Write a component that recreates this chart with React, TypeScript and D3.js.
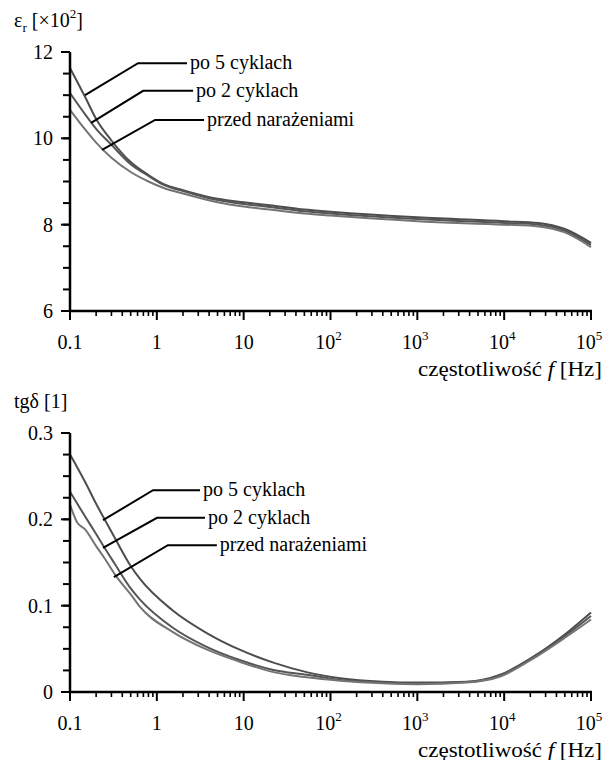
import * as d3 from "d3";

// legend names (shared by both panels)
const seriesNames = ["po 5 cyklach", "po 2 cyklach", "przed narażeniami"];
const seriesColors = ["#4d4d4d", "#555555", "#747474"];

// upper panel: relative permittivity [x10^2]
const epsFreq = [0.1, 0.15, 0.2, 0.3, 0.5, 0.8, 1.2, 2, 5, 10, 20, 50, 100, 1000, 1e4, 2.5e4, 5e4, 1e5];
const epsPo5 = [11.63, 10.95, 10.45, 9.95, 9.45, 9.15, 8.94, 8.8, 8.6, 8.52, 8.45, 8.35, 8.3, 8.17, 8.08, 8.04, 7.9, 7.58];
const epsPo2 = [11.05, 10.55, 10.22, 9.85, 9.4, 9.13, 8.92, 8.78, 8.57, 8.48, 8.41, 8.31, 8.26, 8.13, 8.04, 8.0, 7.86, 7.53];
const epsPrzed = [10.66, 10.2, 9.9, 9.55, 9.22, 9.0, 8.85, 8.72, 8.52, 8.42, 8.35, 8.26, 8.21, 8.08, 8.0, 7.96, 7.82, 7.48];

// lower panel: loss tangent
const tgFreq = [0.1, 0.12, 0.15, 0.2, 0.25, 0.33, 0.5, 0.64, 1.5, 3.8, 9, 22, 53, 130, 400, 1000, 3700, 9000, 2.1e4, 5.2e4, 1e5];
const tgPo5 = [0.275, 0.261, 0.243, 0.218, 0.2, 0.178, 0.146, 0.131, 0.095, 0.068, 0.049, 0.034, 0.023, 0.016, 0.012, 0.011, 0.012, 0.02, 0.04, 0.068, 0.092];
const tgPo2 = [0.232, 0.219, 0.203, 0.183, 0.167, 0.148, 0.12, 0.107, 0.075, 0.052, 0.037, 0.0255, 0.02, 0.014, 0.011, 0.01, 0.0115, 0.019, 0.039, 0.066, 0.088];
const tgPrzed = [0.217, 0.197, 0.188, 0.169, 0.155, 0.136, 0.113, 0.0985, 0.07, 0.049, 0.035, 0.023, 0.017, 0.013, 0.01, 0.009, 0.011, 0.018, 0.038, 0.064, 0.084];

// where the leader lines touch the curves (frequency, value)
const epsAnchorF = [0.149, 0.175, 0.234];
const epsAnchorV = [11.0, 10.36, 9.73];
const tgAnchorF = [0.24, 0.24, 0.32];
const tgAnchorV = [0.199, 0.167, 0.133];

const xTickLabels = ["0.1", "1", "10", "10^2", "10^3", "10^4", "10^5"];
const xMajor = [0.1, 1, 10, 100, 1000, 1e4, 1e5];

const FONT = "'Liberation Serif', 'DejaVu Serif', 'Noto Serif', Times, serif";
const W = 615;
const H = 760;

const x = d3.scaleLog().domain([0.1, 1e5]).range([70, 591]);

const xMinor: number[] = [];
xMajor.slice(0, -1).forEach((d) => {
  for (let k = 2; k <= 9; k++) xMinor.push(d * k);
});

function TickLabel({ label, px, y }: { label: string; px: number; y: number }) {
  if (label.includes("^")) {
    const [base, exp] = label.split("^");
    return (
      <text x={px - 2} y={y} textAnchor="middle" fontSize={20}>
        {base}
        <tspan fontSize={13} dy={-9}>{exp}</tspan>
      </text>
    );
  }
  return (
    <text x={px} y={y} textAnchor="middle" fontSize={20}>
      {label}
    </text>
  );
}

function Panel({
  y,
  yTicks,
  yMinorStep,
  fmt,
  series,
  freq,
  anchorF,
  anchorV,
  elbows,
}: {
  y: d3.ScaleLinear<number, number>;
  yTicks: number[];
  yMinorStep: number;
  fmt: (d: number) => string;
  series: number[][];
  freq: number[];
  anchorF: number[];
  anchorV: number[];
  elbows: [number, number, number][];
}) {
  const [y0, y1] = y.domain();
  const yBase = y(y0);
  const yTop = y(y1);
  const minorY = d3.range(y0, y1 + 1e-9, yMinorStep);
  const line = d3
    .line<number>()
    .x((_, i) => x(freq[i]))
    .y((d) => y(d))
    .curve(d3.curveMonotoneX);

  return (
    <g>
      {series.map((s, i) => (
        <path key={i} d={line(s) || ""} fill="none" stroke={seriesColors[i]} strokeWidth={2} />
      ))}
      {/* leader lines + labels */}
      {seriesNames.map((name, i) => {
        const ax = x(anchorF[i]);
        const ay = y(anchorV[i]);
        const [dx, dy, len] = elbows[i];
        const ex = ax + dx;
        const ey = ay + dy;
        return (
          <g key={name}>
            <polyline
              points={`${ax},${ay} ${ex},${ey} ${ex + len},${ey}`}
              fill="none"
              stroke="#000"
              strokeWidth={2}
            />
            <text x={ex + len + 3} y={ey + 6} fontSize={20}>
              {name}
            </text>
          </g>
        );
      })}
      {/* y axis */}
      <line x1={70} x2={70} y1={yTop} y2={yBase + 1} stroke="#000" strokeWidth={2.5} />
      {minorY.map((d, i) => (
        <line key={i} x1={63} x2={70} y1={y(d)} y2={y(d)} stroke="#000" strokeWidth={2} />
      ))}
      {yTicks.map((d) => (
        <g key={d}>
          <line x1={61} x2={70} y1={y(d)} y2={y(d)} stroke="#000" strokeWidth={2} />
          <text x={53} y={y(d) + 7} textAnchor="end" fontSize={20}>
            {fmt(d)}
          </text>
        </g>
      ))}
      {/* x axis */}
      <line x1={69} x2={592} y1={yBase} y2={yBase} stroke="#000" strokeWidth={2.5} />
      {xMinor.map((d, i) => (
        <line key={i} x1={x(d)} x2={x(d)} y1={yBase} y2={yBase + 5} stroke="#000" strokeWidth={1.6} />
      ))}
      {xMajor.map((d, i) => (
        <g key={d}>
          <line x1={x(d)} x2={x(d)} y1={yBase} y2={yBase + 9} stroke="#000" strokeWidth={2} />
          <TickLabel label={xTickLabels[i]} px={x(d)} y={yBase + 38} />
        </g>
      ))}
      <text x={602} y={yBase + 65} textAnchor="end" fontSize={20} textLength={184} lengthAdjust="spacingAndGlyphs">
        częstotliwość <tspan fontStyle="italic">f</tspan> [Hz]
      </text>
    </g>
  );
}

export default function App() {
  const yEps = d3.scaleLinear().domain([6, 12]).range([311, 52]);
  const yTg = d3.scaleLinear().domain([0, 0.3]).range([692, 433]);

  return (
    <svg
      width={W}
      height={H}
      style={{ position: "absolute", left: 0, top: 0, background: "#fff", fontFamily: FONT }}
    >
      <rect width={W} height={H} fill="#fff" />
      <text x={14} y={27} fontSize={20}>
        ε<tspan fontSize={13} dy={5}>r</tspan>
        <tspan dy={-5}> [×10</tspan>
        <tspan fontSize={13} dy={-9}>2</tspan>
        <tspan dy={9}>]</tspan>
      </text>
      <Panel
        y={yEps}
        yTicks={[6, 8, 10, 12]}
        yMinorStep={0.5}
        fmt={(d) => String(d)}
        series={[epsPo5, epsPo2, epsPrzed]}
        freq={epsFreq}
        anchorF={epsAnchorF}
        anchorV={epsAnchorV}
        elbows={[
          [53, -32, 49],
          [52, -32, 50],
          [53, -30, 49],
        ]}
      />
      <text x={14} y={408} fontSize={20}>
        tgδ [1]
      </text>
      <Panel
        y={yTg}
        yTicks={[0, 0.1, 0.2, 0.3]}
        yMinorStep={0.025}
        fmt={(d) => (d === 0 ? "0" : d3.format(".1f")(d))}
        series={[tgPo5, tgPo2, tgPrzed]}
        freq={tgFreq}
        anchorF={tgAnchorF}
        anchorV={tgAnchorV}
        elbows={[
          [50, -30, 47],
          [54, -30, 48],
          [54, -32, 49],
        ]}
      />
    </svg>
  );
}
